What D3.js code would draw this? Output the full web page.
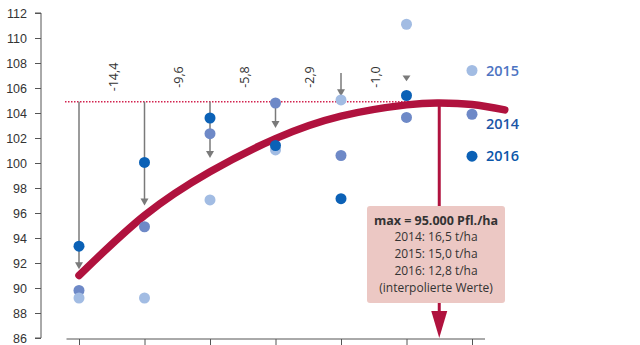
<!DOCTYPE html>
<html><head><meta charset="utf-8">
<script src="https://cdn.jsdelivr.net/npm/d3@7"></script>
<style>
html,body{margin:0;padding:0;background:#fff;}
svg{display:block;font-family:"Open Sans","Noto Sans",sans-serif;}
</style></head>
<body>
<svg id="c" width="640" height="345"></svg>
<script>
// Plant density (thousand plants/ha)
const densities = [40, 50, 60, 70, 80, 90];
const axisTicks = [40, 50, 60, 70, 80, 90, 100];
// Relative yield (index)
const yield2014 = [89.8, 94.9, 102.35, 104.8, 100.6, 103.65];
const yield2015 = [89.2, 89.2, 97.05, 101.05, 105.05, 111.1];
const yield2016 = [93.35, 100.05, 103.6, 101.4, 97.15, 105.4];
// Fitted curve
const curveDensity = [40, 50, 60, 70, 80, 90, 95, 100, 105];
const curveYield = [91.0, 95.8, 99.3, 101.95, 103.75, 104.65, 104.8, 104.68, 104.25];
const maxLevel = 104.9;
const maxDensity = 95;
// Difference arrows
const arrowFrom = [104.9, 104.9, 104.9, 104.9, 107.2, 107.0];
const arrowTo = [91.5, 96.6, 100.4, 102.8, 105.35, 106.55];
const pctDensity = [45, 55, 65, 75, 85];
const pctLabels = ["-14,4", "-9,6", "-5,8", "-2,9", "-1,0"];
const yTicks = [86, 88, 90, 92, 94, 96, 98, 100, 102, 104, 106, 108, 110, 112];
// Legend
const legendYears = ["2015", "2014", "2016"];
const legendValues = [107.4, 103.9, 100.55];
const boxLines = ["max = 95.000 Pfl./ha", "2014: 16,5 t/ha", "2015: 15,0 t/ha", "2016: 12,8 t/ha", "(interpolierte Werte)"];

const colors = {"2014": "#6e89c7", "2015": "#a2bce3", "2016": "#0b61b6"};
const textColors = {"2014": "#1b56a6", "2015": "#4d74c2", "2016": "#0b57aa"};
const red = "#b0123e";

const svg = d3.select("#c");
const x = d3.scaleLinear().domain([40, 100]).range([79, 472]);
const y = d3.scaleLinear().domain([86, 112]).range([338, 13]);

// Y axis
const gy = svg.append("g").attr("transform", "translate(41,0)")
  .call(d3.axisLeft(y).tickValues(yTicks).tickSize(6).tickPadding(8).tickFormat(d3.format("d")));
gy.select(".domain").attr("stroke", "#555");
gy.selectAll(".tick line").attr("stroke", "#555");
gy.selectAll("text").attr("fill", "#333").attr("font-size", 12.5);
gy.select(".domain").attr("d", `M-6,${y(112)}H0V${y(86)}H-6`);

// X axis
const gx = svg.append("g").attr("transform", "translate(0,339)")
  .call(d3.axisBottom(x).tickValues(axisTicks).tickSize(8).tickFormat(""));
gx.select(".domain").attr("d", `M${x(40) - 12.5},0H${x(100) + 13}`).attr("stroke", "#555");
gx.selectAll(".tick line").attr("stroke", "#555");

// dotted max line
svg.append("line").attr("x1", 65).attr("x2", x(maxDensity)).attr("y1", y(maxLevel)).attr("y2", y(maxLevel))
  .attr("stroke", "#d2234f").attr("stroke-width", 1.3).attr("stroke-dasharray", "1.5,1.5");

// gray arrows
const gray = "#7a7a7a";
densities.forEach((d, i) => {
  const x0 = x(d), y0 = y(arrowFrom[i]), y1 = y(arrowTo[i]);
  const head = 7;
  if (y1 - y0 > head) {
    svg.append("line").attr("x1", x0).attr("x2", x0).attr("y1", y0).attr("y2", y1 - head + 1)
      .attr("stroke", gray).attr("stroke-width", 1.5);
  }
  const h = Math.min(head, y1 - y0);
  svg.append("path").attr("d", `M${x0 - 4},${y1 - h}L${x0 + 4},${y1 - h}L${x0},${y1}Z`).attr("fill", gray);
});

// percent labels
pctDensity.forEach((d, i) => {
  svg.append("text").attr("transform", `translate(${x(d) + 6},77) rotate(-90)`)
    .attr("text-anchor", "middle").attr("font-size", 12.5).attr("fill", "#333")
    .text(pctLabels[i]);
});

// red vertical arrow
const xm = x(maxDensity);
svg.append("line").attr("x1", xm).attr("x2", xm).attr("y1", y(104.8)).attr("y2", 316)
  .attr("stroke", red).attr("stroke-width", 3);
svg.append("path").attr("d", `M${xm - 8},311L${xm + 8},311L${xm},338Z`).attr("fill", red);

// curve
const line = d3.line().x((d, i) => x(curveDensity[i])).y(d => y(d)).curve(d3.curveNatural);
svg.append("path").attr("d", line(curveYield)).attr("fill", "none").attr("stroke", red)
  .attr("stroke-width", 7.5).attr("stroke-linecap", "round");

// points
[["2014", yield2014], ["2015", yield2015], ["2016", yield2016]].forEach(([yr, vals]) => {
  svg.append("g").selectAll("circle").data(vals).join("circle")
    .attr("cx", (v, i) => x(densities[i])).attr("cy", v => y(v)).attr("r", 5.5)
    .attr("fill", colors[yr]);
});

// legend
legendYears.forEach((yr, i) => {
  const cy = y(legendValues[i]);
  svg.append("circle").attr("cx", x(100)).attr("cy", cy).attr("r", 5.5).attr("fill", colors[yr]);
  const ty = yr === "2014" ? cy + 15 : cy + 5;
  svg.append("text").attr("x", 486).attr("y", ty).attr("font-size", 14.5).attr("font-weight", 600)
    .attr("fill", textColors[yr]).text(yr);
});

// info box
svg.append("rect").attr("x", 367).attr("y", 206).attr("width", 138).attr("height", 97)
  .attr("rx", 3).attr("fill", "#ecc8c4");
boxLines.forEach((t, i) => {
  svg.append("text").attr("x", 436).attr("y", 224.5 + i * 16.8).attr("text-anchor", "middle")
    .attr("font-size", i === 0 ? 12.5 : 12).attr("font-weight", i === 0 ? 700 : 400)
    .attr("fill", "#333").text(t);
});
</script>
</body></html>
